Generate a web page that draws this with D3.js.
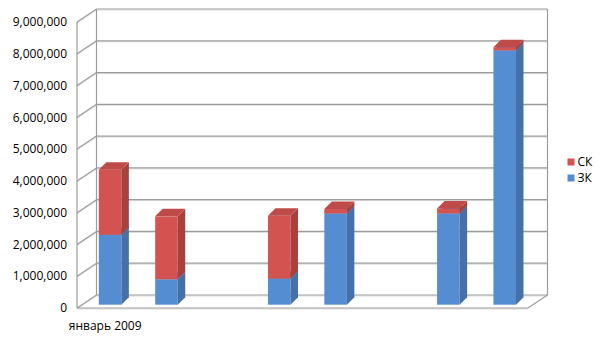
<!DOCTYPE html>
<html>
<head>
<meta charset="utf-8">
<script src="https://cdn.jsdelivr.net/npm/d3@7"></script>
<style>
  body { margin: 0; background: #fff; }
  text { font-family: "Open Sans", sans-serif; font-size: 12px; fill: #000; }
</style>
</head>
<body>
<svg id="chart" width="605" height="340"></svg>
<script>
// data
var categories = ["c1", "c2", "c3", "c4", "c5", "c6", "c7", "c8"];
var catLabels = ["январь 2009", "", "", "", "", "", "", ""];
var zk = [2200000, 800000, 0, 820000, 2870000, 0, 2870000, 8000000];
var sk = [2050000, 1980000, 0, 1980000, 140000, 0, 160000, 100000];
var seriesNames = ["ЗК", "СК"];
var yTicks = [0, 1000000, 2000000, 3000000, 4000000, 5000000, 6000000, 7000000, 8000000, 9000000];

var svg = d3.select("#chart");

var x = d3.scaleBand().domain(categories).range([77, 528]).paddingInner(0.6).paddingOuter(0.3);
var y = d3.scaleLinear().domain([0, 9000000]).range([308, 22]);

var depth = {x: 19.5, y: -13},        // floor depth
    barOff = {x: 4.9, y: -3.3},       // front face of bars
    barDepth = {x: 7.5, y: -7.5};

var colors = {
  "ЗК": {front: "#558dd3", side: "#4571a8", top: "#4f80bf"},
  "СК": {front: "#d25350", side: "#a9403e", top: "#bf4b48"}
};

var walls = svg.append("g");
var line = function(x1, y1, x2, y2, c, w) {
  walls.append("line").attr("x1", x1).attr("y1", y1).attr("x2", x2).attr("y2", y2)
    .attr("stroke", c).attr("stroke-width", w);
};

// gridlines on back and side wall
yTicks.forEach(function(v) {
  var yy = y(v);
  line(77, yy + 1, 96.5, yy + depth.y + 1, "#dcdcdc", 1);
  line(96.5, yy + depth.y + 1, 547.5, yy + depth.y + 1, "#dcdcdc", 1);
  line(77, yy, 96.5, yy + depth.y, "#9c9c9c", 1.2);
  line(96.5, yy + depth.y, 547.5, yy + depth.y, "#9c9c9c", 1.2);
});
line(77, y(9000000), 77, y(0), "#9c9c9c", 1.2);
line(96.5, y(9000000) + depth.y, 96.5, y(0) + depth.y, "#9c9c9c", 1.2);
line(547.5, y(9000000) + depth.y, 547.5, y(0) + depth.y, "#9c9c9c", 1.2);
line(77, y(0) + 1, 528, y(0) + 1, "#dcdcdc", 1);
line(77, y(0), 528, y(0), "#9c9c9c", 1.2);
line(528, y(0), 547.5, y(0) + depth.y, "#9c9c9c", 1.2);

// y labels
svg.append("g").selectAll("text").data(yTicks).enter().append("text")
  .attr("x", 67).attr("y", function(d) { return y(d); })
  .attr("dy", "0.35em").attr("text-anchor", "end")
  .text(d3.format(","));

// category labels
svg.append("g").selectAll("text").data(categories).enter().append("text")
  .attr("x", function(d) { return x(d) + x.bandwidth() / 2; })
  .attr("y", 326).attr("dy", "0.35em").attr("text-anchor", "middle")
  .text(function(d, i) { return catLabels[i]; });

// stacked 3D bars
var table = categories.map(function(c, i) { return {cat: c, "ЗК": zk[i], "СК": sk[i]}; });
var stacked = d3.stack().keys(seriesNames)(table);

var bars = svg.append("g");
var pts = function(a) { return a.map(function(p) { return p.join(","); }).join(" "); };

categories.forEach(function(c, i) {
  stacked.forEach(function(s) {
    var d = s[i];
    if (d[1] - d[0] <= 0) return;
    var col = colors[s.key];
    var x0 = x(c) + barOff.x, x1 = x0 + x.bandwidth();
    var yb = y(d[0]) + barOff.y, yt = y(d[1]) + barOff.y;
    bars.append("rect").attr("x", x0).attr("y", yt).attr("width", x1 - x0).attr("height", yb - yt)
      .attr("fill", col.front);
    bars.append("polygon").attr("fill", col.side)
      .attr("points", pts([[x1, yb], [x1 + barDepth.x, yb + barDepth.y], [x1 + barDepth.x, yt + barDepth.y], [x1, yt]]));
    bars.append("polygon").attr("fill", col.top)
      .attr("points", pts([[x0, yt], [x0 + barDepth.x, yt + barDepth.y], [x1 + barDepth.x, yt + barDepth.y], [x1, yt]]));
  });
});

// legend
var legend = svg.append("g").selectAll("g").data(seriesNames.slice().reverse()).enter().append("g")
  .attr("transform", function(d, i) { return "translate(567.5," + (162 + i * 16) + ")"; });
legend.append("rect").attr("x", 0).attr("y", -3.5).attr("width", 7).attr("height", 7)
  .attr("fill", function(d) { return colors[d].front; });
legend.append("text").attr("x", 10).attr("dy", "0.35em").text(function(d) { return d; });
</script>
</body>
</html>
